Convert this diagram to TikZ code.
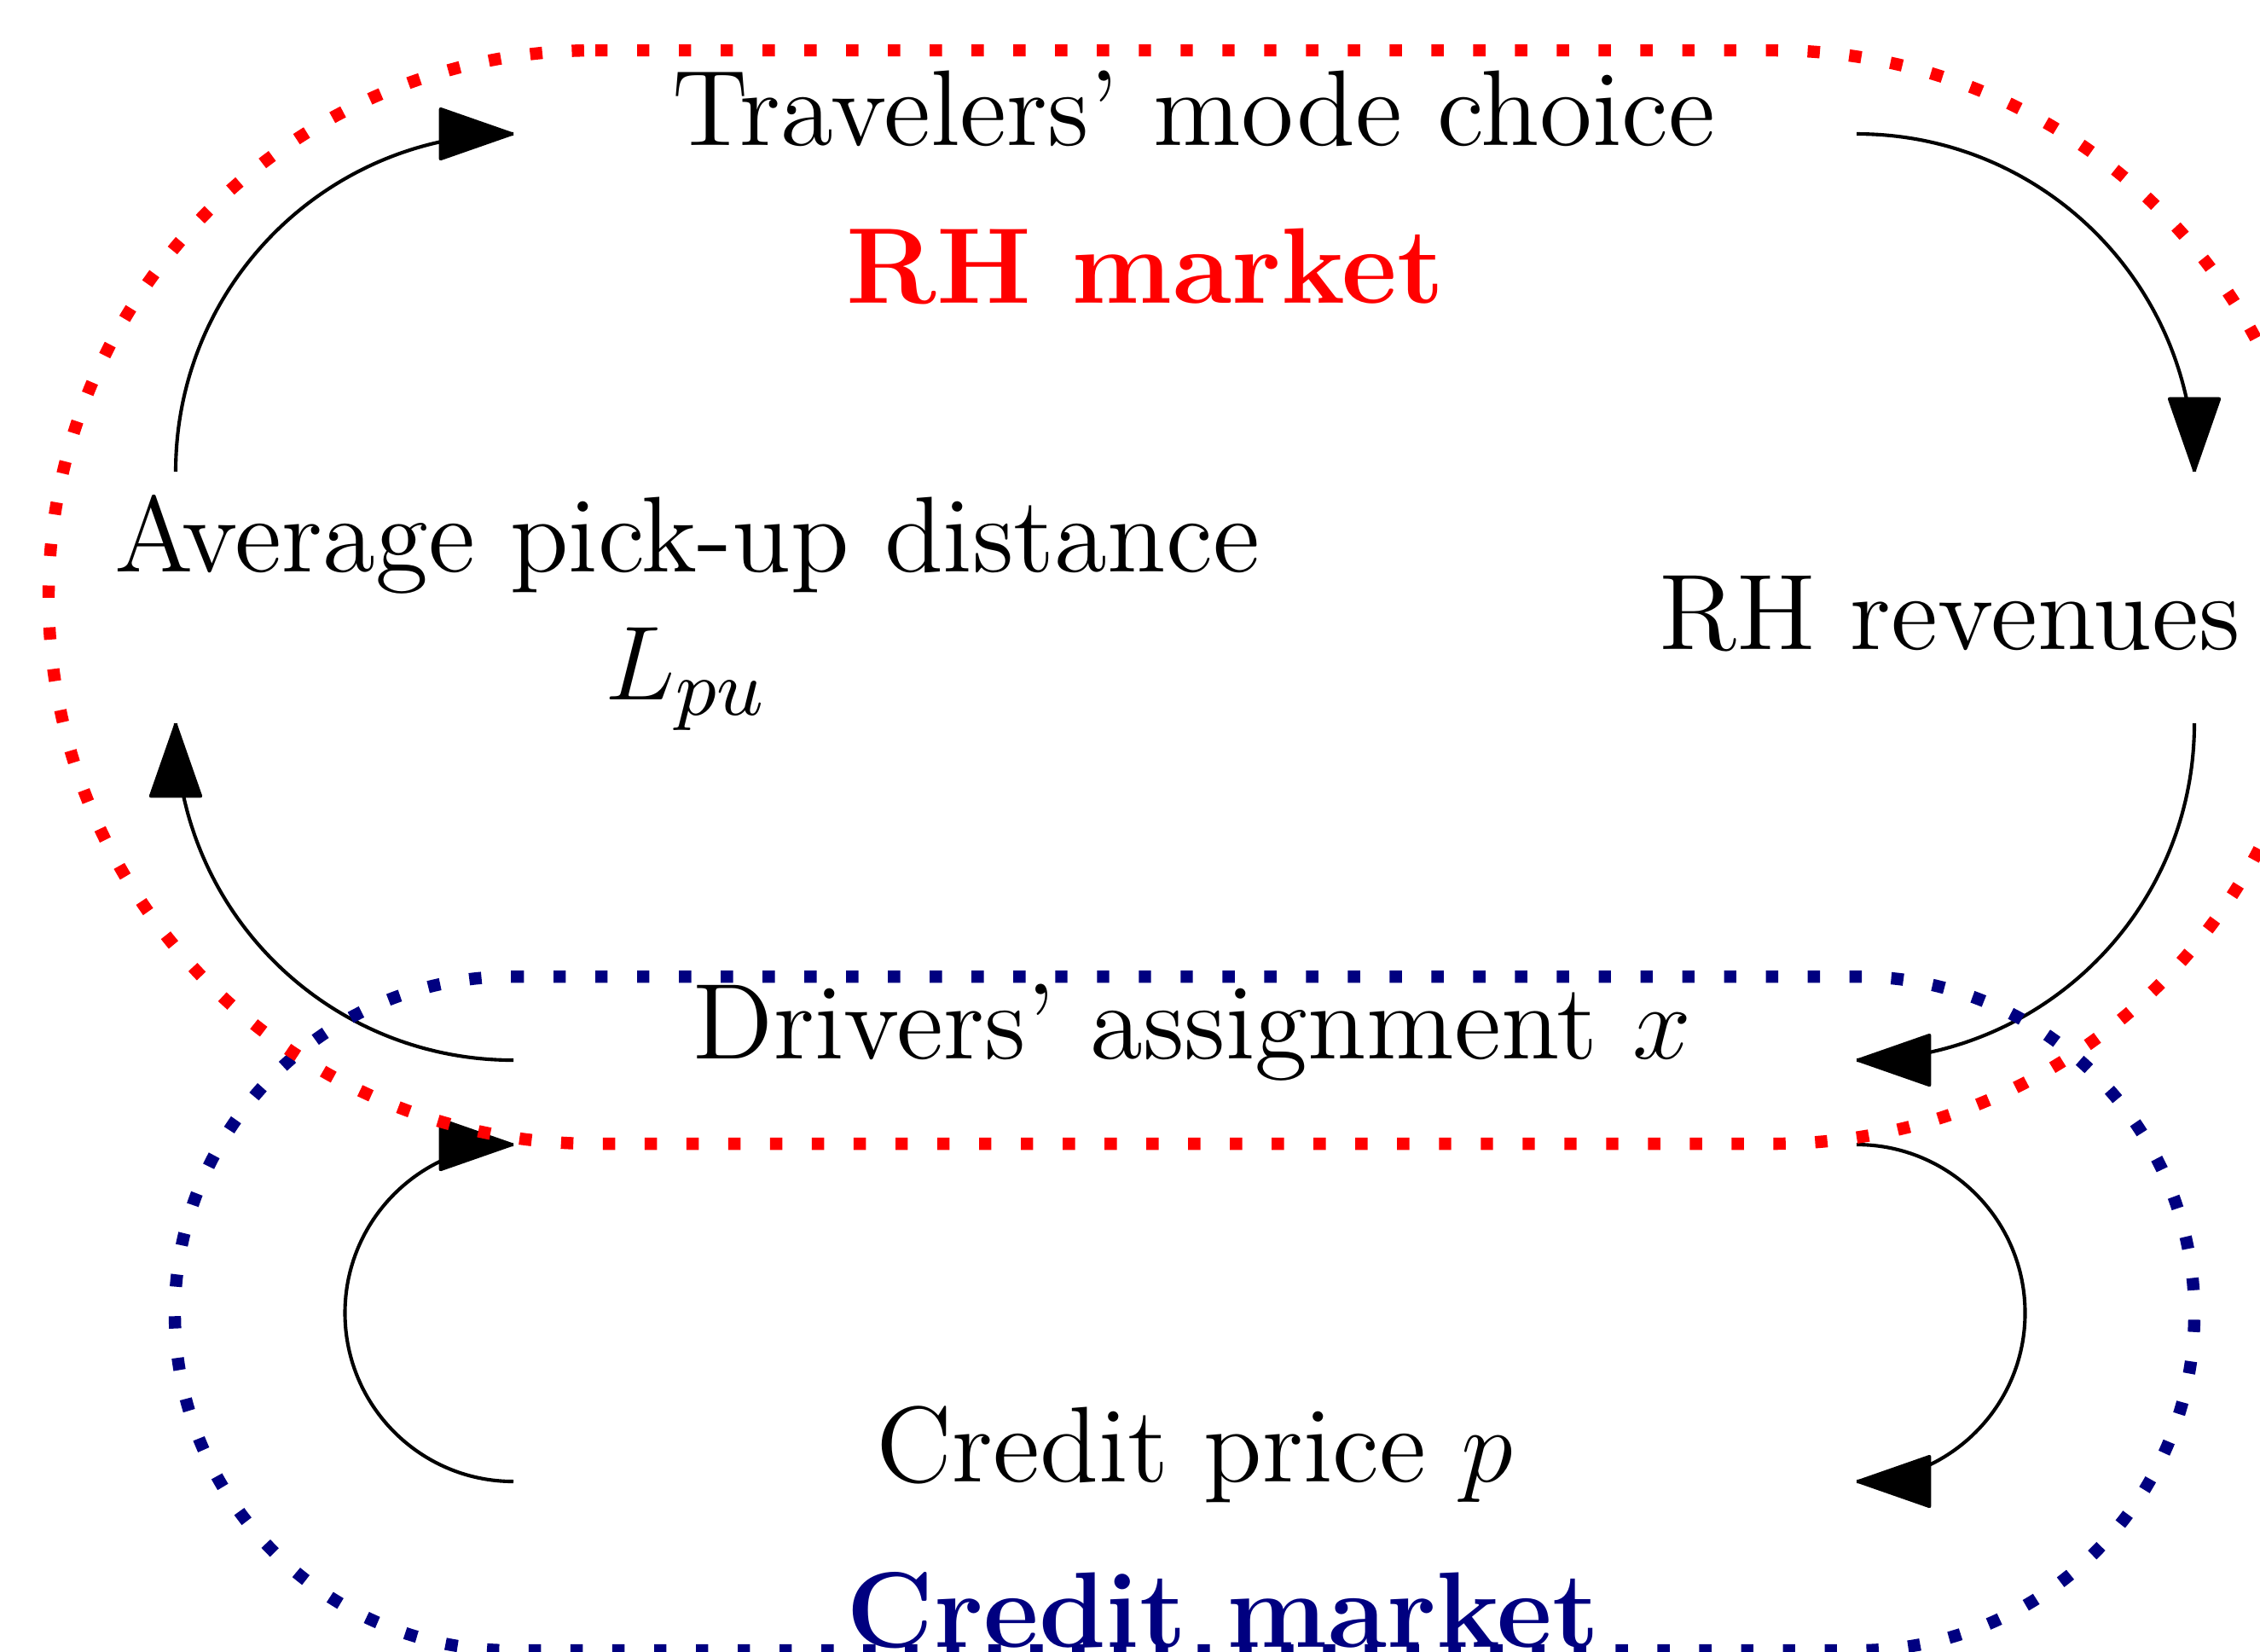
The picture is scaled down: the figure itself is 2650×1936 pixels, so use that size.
\documentclass[tikz,border=0pt]{standalone}
\usetikzlibrary{arrows.meta}
\definecolor{navyc}{RGB}{0,0,128}
\begin{document}
\begin{tikzpicture}[x=0.0971pt,y=-0.0971pt,
  lbl/.style={font=\fontsize{12.25}{14.8}\selectfont, inner sep=0pt, anchor=base},
  boldlbl/.style={lbl, font=\fontsize{12.25}{14.8}\selectfont\bfseries},
  conn/.style={line width=0.4pt},
  headat/.style={line width=0.4pt, {Triangle[length=8.9pt,width=6.1pt,round]}-},
  rhloop/.style={draw=red, line width=1.4pt, dash pattern=on 1.4pt off 3.36pt},
  crloop/.style={draw=navyc, line width=1.4pt, dash pattern=on 1.4pt off 3.36pt}]
\useasboundingbox (0,0) rectangle (2650,1936);
% text nodes
\node[lbl] (trav) at (1400,170) {Travelers’ mode choice};
\node[boldlbl, text=red] (rhm) at (1343,355) {RH market};
\node[lbl] (avg) at (806,670) {Average pick-up distance};
\node[lbl] (lpu) at (805,820) {$L_{pu}$};
\node[lbl] (rev) at (2286,761) {RH revenues};
\node[lbl] (drv) at (1398,1241) {Drivers’ assignment $x$};
\node[lbl] (cp) at (1401,1737) {Credit price $p$};
\node[boldlbl, text=navyc] (cm) at (1434,1931) {Credit market};
% connector end points
\coordinate (a1s) at (206,553);
\coordinate (a1e) at (602,157);
\coordinate (a2s) at (2177,157);
\coordinate (a2e) at (2573,553);
\coordinate (a3s) at (2573,848);
\coordinate (a3e) at (2177,1243);
\coordinate (a4s) at (602,1243);
\coordinate (a4e) at (206,848);
\coordinate (a5s) at (602,1737);
\coordinate (a5e) at (602,1342);
\coordinate (a6s) at (2177,1342);
\coordinate (a6e) at (2177,1737);
% connectors (circular arcs)
\draw[conn] (a1s) .. controls +(0,-219) and +(-219,0) .. (a1e);
\draw[conn] (a2s) .. controls +(219,0) and +(0,-219) .. (a2e);
\draw[conn] (a3s) .. controls +(0,219) and +(219,0) .. (a3e);
\draw[conn] (a4s) .. controls +(-219,0) and +(0,219) .. (a4e);
\draw[conn] (a5s) .. controls +(-109,0) and +(0,109) .. ++(-197.5,-197.5) .. controls +(0,-109) and +(-109,0) .. (a5e);
\draw[conn] (a6s) .. controls +(109,0) and +(0,-109) .. ++(197.5,197.5) .. controls +(0,109) and +(109,0) .. (a6e);
% arrow heads at the connector ends
\draw[headat] (a1e) -- +(-1,0);
\draw[headat] (a2e) -- +(0,-1);
\draw[headat] (a3e) -- +(1,0);
\draw[headat] (a4e) -- +(0,1);
\draw[headat] (a5e) -- +(-1,0);
\draw[headat] (a6e) -- +(1,0);
% market loops
\draw[crloop] (600,1145) -- (2178,1145) .. controls (2396,1145) and (2573,1322) .. (2573,1540) .. controls (2573,1758) and (2396,1935) .. (2178,1935) -- (600,1935) .. controls (382,1935) and (205,1758) .. (205,1540) .. controls (205,1322) and (382,1145) .. (600,1145);
\draw[rhloop] (698,59) -- (2080,59) .. controls (2434,59) and (2721,346) .. (2721,700) .. controls (2721,1054) and (2434,1341) .. (2080,1341) -- (698,1341) .. controls (344,1341) and (57,1054) .. (57,700) .. controls (57,346) and (344,59) .. (698,59) -- cycle;
\end{tikzpicture}
\end{document}
